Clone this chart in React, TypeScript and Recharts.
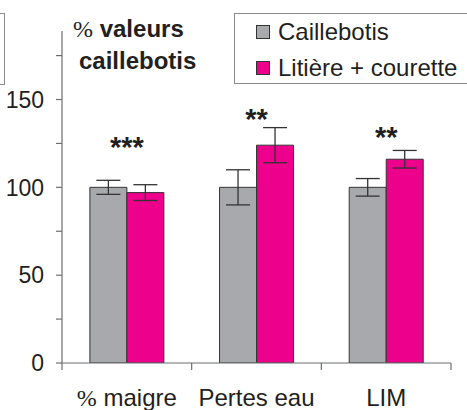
import { ComposedChart, Bar, XAxis, YAxis, ErrorBar, Scatter, Legend } from 'recharts';

const categories = ['% maigre', 'Pertes eau', 'LIM'];
const caillebotis = [100, 100, 100];
const caillebotisErr = [4, 10, 5];
const litiere = [97, 124, 116];
const litiereErr = [4.5, 10, 5];
const stars = ['***', '**', '**'];
const starLevel = [125, 141, 131];
const yTicks = [0, 25, 50, 75, 100, 125, 150, 175];
const yLabelTicks = [0, 50, 100, 150];

const GREY = '#a7a9ac';
const PINK = '#ec008c';
const AXIS = '#6d6e71';
const INK = '#231f20';

const data = categories.map((name, i) => ({
  name,
  caillebotis: caillebotis[i],
  cErr: caillebotisErr[i],
  litiere: litiere[i],
  lErr: litiereErr[i],
  star: stars[i],
  starY: starLevel[i],
}));

function CategoryTick(props: any) {
  const { x, y, payload, index, width } = props;
  const half = payload.offset || width / categories.length / 2;
  const label = String(payload.value);
  const pct = label.startsWith('% ');
  return (
    <g>
      <line x1={x - half} x2={x - half} y1={y} y2={y + 7} stroke={AXIS} strokeWidth={1.2} />
      {index === categories.length - 1 && (
        <line x1={x + half} x2={x + half} y1={y} y2={y + 7} stroke={AXIS} strokeWidth={1.2} />
      )}
      <text x={x} y={y + 43} textAnchor="middle" fontSize={24} fill={INK}>
        {pct ? (
          <>
            <tspan fontFamily="Liberation Serif">%</tspan>
            <tspan>{label.slice(1)}</tspan>
          </>
        ) : (
          label
        )}
      </text>
    </g>
  );
}

function StarShape(props: any) {
  const { cx, cy, payload } = props;
  return (
    <text x={cx} y={cy + 14} textAnchor="middle" fontSize={29} fontWeight="bold" fill={INK}>
      {payload.star}
    </text>
  );
}

function AxisTitle() {
  return (
    <g>
      <text x={73} y={37} fontSize={24} fontWeight="bold" fill={INK}>
        <tspan fontFamily="Liberation Serif" fontWeight="normal">%</tspan>
        <tspan> valeurs</tspan>
      </text>
      <text x={79} y={69} fontSize={24} fontWeight="bold" fill={INK}>
        caillebotis
      </text>
    </g>
  );
}

function LegendBox(props: any) {
  const items = (props.payload || []).filter((p: any) => p.type !== 'none');
  return (
    <div
      style={{
        width: 260,
        height: 69,
        border: '1px solid #8a8a8a',
        fontSize: 24,
        color: INK,
      }}
    >
      {items.map((p: any) => (
        <div key={p.value} style={{ height: 36, display: 'flex', alignItems: 'center' }}>
          <span
            style={{
              display: 'inline-block',
              width: 12,
              height: 12,
              marginLeft: 21,
              marginRight: 8,
              background: p.color,
              border: '1px solid #333',
            }}
          />
          <span>{p.value}</span>
        </div>
      ))}
    </div>
  );
}

export default function App() {
  return (
    <div
      style={{
        position: 'absolute',
        left: 0,
        top: 0,
        width: 467,
        height: 410,
        overflow: 'hidden',
        background: '#fff',
        fontFamily: '"Liberation Sans", Arial, sans-serif',
      }}
    >
      <div
        style={{
          position: 'absolute',
          left: -30,
          top: 13,
          width: 33,
          height: 70,
          border: '1px solid #8a8a8a',
        }}
      />
      <ComposedChart
        width={467}
        height={410}
        data={data}
        margin={{ top: 31, right: 16, bottom: 0, left: 0 }}
        barCategoryGap="21.5%"
        barGap={0}
      >
        <XAxis
          dataKey="name"
          height={47}
          axisLine={{ stroke: AXIS, strokeWidth: 1.2 }}
          tickLine={false}
          tickSize={0}
          tickMargin={0}
          tick={<CategoryTick />}
          interval={0}
        />
        <YAxis
          width={62}
          domain={[0, 189]}
          ticks={yTicks}
          allowDataOverflow
          axisLine={{ stroke: AXIS, strokeWidth: 1.2 }}
          tickLine={{ stroke: AXIS, strokeWidth: 1.2 }}
          tickSize={6}
          tickMargin={12}
          tickFormatter={(v: number) => (yLabelTicks.includes(v) ? String(v) : '')}
          tick={{ fontSize: 23, fill: INK }}
          label={<AxisTitle />}
        />
        <Legend
          layout="vertical"
          align="center"
          verticalAlign="middle"
          wrapperStyle={{ top: 13, left: 234, width: 262 }}
          content={<LegendBox />}
        />
        <Bar
          dataKey="caillebotis"
          name="Caillebotis"
          fill={GREY}
          stroke="#333"
          strokeWidth={1}
          isAnimationActive={false}
        >
          <ErrorBar dataKey="cErr" width={12} stroke="#333" strokeWidth={1.3} direction="y" isAnimationActive={false} />
        </Bar>
        <Bar
          dataKey="litiere"
          name="Litière + courette"
          fill={PINK}
          stroke="#333"
          strokeWidth={1}
          isAnimationActive={false}
        >
          <ErrorBar dataKey="lErr" width={12} stroke="#333" strokeWidth={1.3} direction="y" isAnimationActive={false} />
        </Bar>
        <Scatter dataKey="starY" legendType="none" shape={<StarShape />} isAnimationActive={false} />
      </ComposedChart>
    </div>
  );
}
